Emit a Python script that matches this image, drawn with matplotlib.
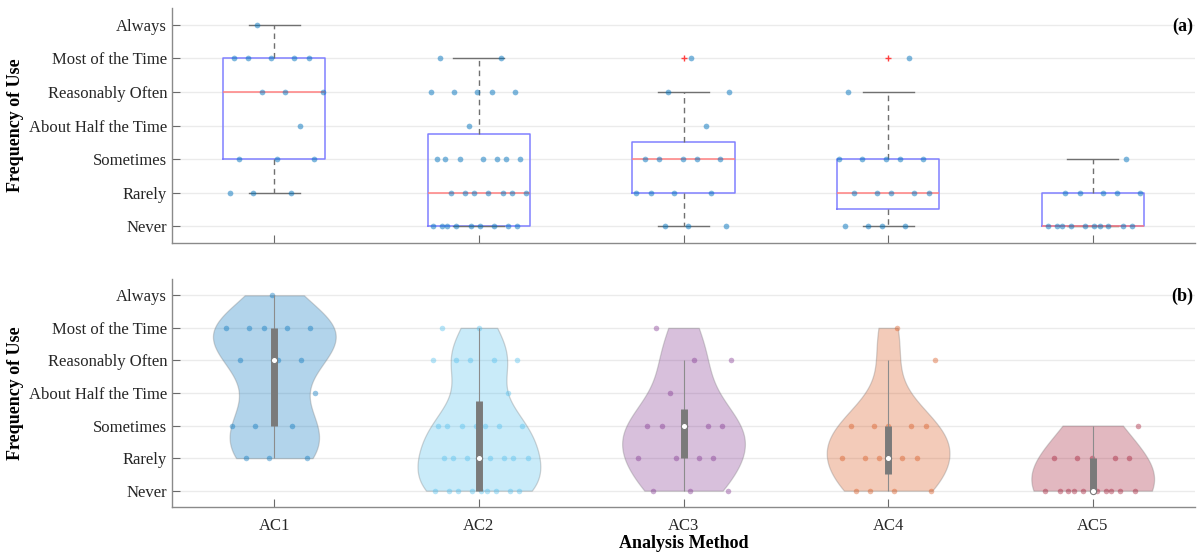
import matplotlib

matplotlib.use("Agg")
import matplotlib.pyplot as plt
import numpy as np

# responses coded 0 (Never) .. 6 (Always)
levels = ["Never", "Rarely", "Sometimes", "About Half the Time",
          "Reasonably Often", "Most of the Time", "Always"]
methods = ["AC1", "AC2", "AC3", "AC4", "AC5"]

ac1 = [1, 1, 1, 2, 2, 2, 3, 4, 4, 4, 5, 5, 5, 5, 5, 6]
ac2 = [0, 0, 0, 0, 0, 0, 0, 0, 0, 1, 1, 1, 1, 1, 1, 1,
       2, 2, 2, 2, 2, 2, 2, 3, 4, 4, 4, 4, 4, 5, 5]
ac3 = [0, 0, 0, 1, 1, 1, 1, 2, 2, 2, 2, 2, 3, 4, 4, 5]
ac4 = [0, 0, 0, 0, 1, 1, 1, 1, 1, 2, 2, 2, 2, 2, 4, 5]
ac5 = [0, 0, 0, 0, 0, 0, 0, 0, 0, 0, 1, 1, 1, 1, 1, 2]
responses = [ac1, ac2, ac3, ac4, ac5]

# MATLAB colour order entries used per method
violin_colors = ["#0072BD", "#4DBEEE", "#7E2F8E", "#D95319", "#A2142F"]
bandwidths = [0.8, 0.8, 0.9, 0.9, 1.2]

plt.rcParams["font.family"] = "serif"
plt.rcParams["font.serif"] = ["Liberation Serif", "DejaVu Serif"]


def box_stats(vals):
    # MATLAB-style quartiles ((i-0.5)/n positions) and 1.5*IQR whiskers
    v = np.asarray(vals, dtype=float)
    q1, med, q3 = np.percentile(v, [25, 50, 75], method="hazen")
    iqr = q3 - q1
    lo = v[v >= q1 - 1.5 * iqr].min()
    hi = v[v <= q3 + 1.5 * iqr].max()
    fliers = v[(v < lo) | (v > hi)]
    return dict(q1=q1, med=med, q3=q3, whislo=lo, whishi=hi, fliers=fliers)


def jitter(n, phase, spread=0.24):
    k = np.arange(n)
    return ((k * 0.6180339887 + phase) % 1.0 - 0.5) * 2 * spread


def style_axes(ax):
    ax.set_xlim(0.5, 5.5)
    ax.set_ylim(-0.5, 6.5)
    ax.set_yticks(range(len(levels)))
    ax.set_yticklabels(levels)
    ax.set_xticks(range(1, len(methods) + 1))
    ax.yaxis.grid(True, color="#ebebeb", lw=1.0)
    ax.set_axisbelow(True)
    for side in ("top", "right"):
        ax.spines[side].set_visible(False)
    for side in ("left", "bottom"):
        ax.spines[side].set_color("#8a8a8a")
        ax.spines[side].set_linewidth(1.0)
    ax.tick_params(direction="in", length=6, color="#6a6a6a", labelsize=12,
                   labelcolor="#262626")
    ax.set_ylabel("Frequency of Use", fontsize=13, fontweight="bold")
    ax.yaxis.set_label_coords(-0.145, 0.5)


fig = plt.figure(figsize=(11.98, 5.57), dpi=100)
ax_top = fig.add_axes([0.1436, 0.5637, 0.8539, 0.4219])
ax_bot = fig.add_axes([0.1436, 0.0898, 0.8539, 0.4093])

# (a) box plots with jittered responses
stats = [box_stats(r) for r in responses]
ax_top.bxp(stats, positions=range(1, 6), widths=0.5, capwidths=0.25,
           showfliers=True,
           boxprops=dict(color="#8080ff", lw=1.1),
           medianprops=dict(color="#ff8080", lw=1.1),
           whiskerprops=dict(color="#707070", lw=1.0, ls=(0, (4, 3))),
           capprops=dict(color="#707070", lw=1.0),
           flierprops=dict(marker="+", markeredgecolor="#ff4040",
                           markersize=5, markeredgewidth=1.0))
for i, r in enumerate(responses):
    x = i + 1 + jitter(len(r), 0.13 * i + 0.05)
    ax_top.scatter(x, r, s=17, color="#0072BD", alpha=0.5, lw=0, zorder=4)
style_axes(ax_top)
ax_top.set_xticklabels([])
ax_top.text(0.998, 0.92, "(a)", transform=ax_top.transAxes, ha="right",
            va="center", fontsize=13, fontweight="bold")

# (b) violins with inner box
for i, r in enumerate(responses):
    pos = i + 1
    parts = ax_bot.violinplot([r], positions=[pos], widths=0.6,
                              showextrema=False, points=200,
                              bw_method=lambda kde, h=bandwidths[i]: h / kde.dataset.std(ddof=1))
    for body in parts["bodies"]:
        body.set_facecolor(matplotlib.colors.to_rgba(violin_colors[i], 0.3))
        body.set_edgecolor((0.45, 0.45, 0.45, 0.7))
        body.set_linewidth(0.9)
    x = pos + jitter(len(r), 0.37 * i + 0.21)
    ax_bot.scatter(x, r, s=16, color=violin_colors[i], alpha=0.4, lw=0, zorder=3)
    st = box_stats(r)
    ax_bot.vlines(pos, st["whislo"], st["whishi"], color="#8c8c8c", lw=0.8, zorder=4)
    ax_bot.vlines(pos, st["q1"], st["q3"], color="#7a7a7a", lw=5, zorder=5)
    ax_bot.scatter([pos], [st["med"]], s=20, color="white", edgecolors="#7a7a7a",
                   lw=0.8, zorder=6)
style_axes(ax_bot)
ax_bot.set_xticklabels(methods)
ax_bot.tick_params(axis="x", pad=8)
ax_bot.set_xlabel("Analysis Method", fontsize=13, fontweight="bold", labelpad=1)
ax_bot.text(0.998, 0.925, "(b)", transform=ax_bot.transAxes, ha="right",
            va="center", fontsize=13, fontweight="bold")

fig.savefig("out.png", dpi=100)
